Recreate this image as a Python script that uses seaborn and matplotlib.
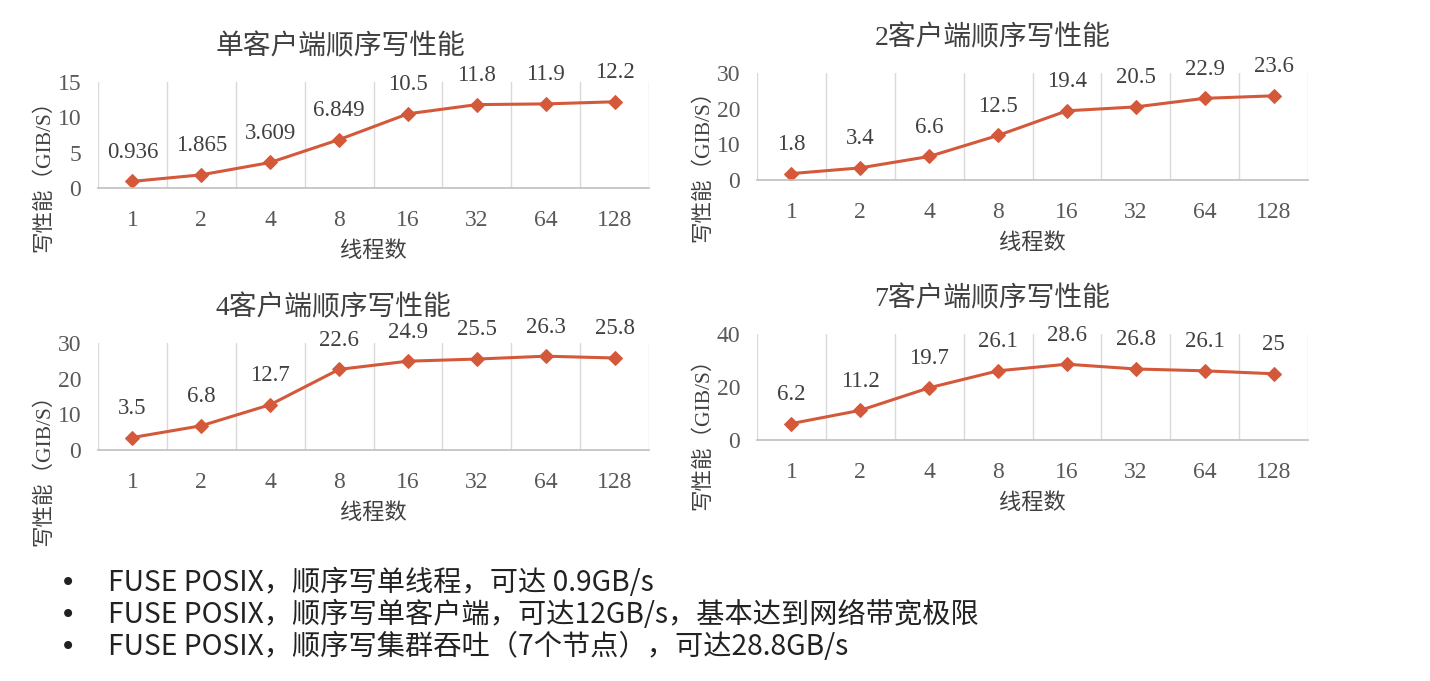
import matplotlib
matplotlib.use("Agg")
import matplotlib.pyplot as plt
import seaborn as sns
import pandas as pd
import numpy as np

threads = ["1", "2", "4", "8", "16", "32", "64", "128"]
single_client = [0.936, 1.865, 3.609, 6.849, 10.5, 11.8, 11.9, 12.2]
single_labels = ["0.936", "1.865", "3.609", "6.849", "10.5", "11.8", "11.9", "12.2"]
two_clients = [1.8, 3.4, 6.6, 12.5, 19.4, 20.5, 22.9, 23.6]
two_labels = ["1.8", "3.4", "6.6", "12.5", "19.4", "20.5", "22.9", "23.6"]
four_clients = [3.5, 6.8, 12.7, 22.6, 24.9, 25.5, 26.3, 25.8]
four_labels = ["3.5", "6.8", "12.7", "22.6", "24.9", "25.5", "26.3", "25.8"]
seven_clients = [6.2, 11.2, 19.7, 26.1, 28.6, 26.8, 26.1, 25]
seven_labels = ["6.2", "11.2", "19.7", "26.1", "28.6", "26.8", "26.1", "25"]

titles = ["单客户端顺序写性能", "2客户端顺序写性能", "4客户端顺序写性能", "7客户端顺序写性能"]
xlabel = "线程数"
ylabel = "写性能（GIB/S）"
bullets = [
    "FUSE POSIX，顺序写单线程，可达 0.9GB/s",
    "FUSE POSIX，顺序写单客户端，可达12GB/s，基本达到网络带宽极限",
    "FUSE POSIX，顺序写集群吞吐（7个节点），可达28.8GB/s",
]

sns.set_theme(style="white")
plt.rcParams["font.family"] = ["Liberation Serif", "Noto Sans CJK SC", "DejaVu Sans"]

W, H = 1430, 681
fig = plt.figure(figsize=(W / 100, H / 100), dpi=100)

LINE = "#D4593A"
TXT = "#404040"
TICK = "#595959"

def px_axes(left, top, right, bottom):
    return fig.add_axes([left / W, 1 - bottom / H, (right - left) / W, (bottom - top) / H])

panels = [
    (px_axes(98, 82, 649, 188), single_client, single_labels, [0, 5, 10, 15], 0.44, 0.16),
    (px_axes(757, 73, 1308, 180), two_clients, two_labels, [0, 10, 20, 30], 0.427, 0.18),
    (px_axes(98, 343, 649, 450), four_clients, four_labels, [0, 10, 20, 30], 0.428, -0.14),
    (px_axes(757, 334, 1308, 440), seven_clients, seven_labels, [0, 20, 40], 0.427, 0.11),
]

for i, (ax, vals, labs, yt, tx, ly) in enumerate(panels):
    df = pd.DataFrame({"pos": np.arange(len(threads)), "val": vals})
    sns.lineplot(data=df, x="pos", y="val", ax=ax, color=LINE, marker="D",
                 markersize=7, markeredgecolor=LINE, linewidth=2.2)
    for x, y, s in zip(df["pos"], df["val"], labs):
        ax.annotate(s, (x, y), xytext=(0, 21), textcoords="offset points",
                    ha="center", va="center", fontsize=16.5, color=TXT)
    ax.set_xlim(-0.5, len(threads) - 0.5)
    ax.set_ylim(yt[0], yt[-1])
    ax.set_xticks(np.arange(len(threads)))
    ax.set_xticklabels(threads)
    ax.set_xticks(np.arange(len(threads) + 1) - 0.5, minor=True)
    ax.set_yticks(yt)
    ax.grid(False)
    ax.grid(True, which="minor", axis="x", color="#D9D9D9", linewidth=1)
    ax.tick_params(axis="x", which="major", length=0, pad=16, labelsize=17, labelcolor=TICK)
    ax.tick_params(axis="x", which="minor", length=0)
    ax.tick_params(axis="y", length=0, pad=12, labelsize=17, labelcolor=TICK)
    for sp in ["top", "right", "left"]:
        ax.spines[sp].set_visible(False)
    ax.spines["bottom"].set_color("#BFBFBF")
    ax.spines["bottom"].set_linewidth(1.2)
    ax.set_xlabel(xlabel, fontsize=16, color=TXT, labelpad=7)
    ax.set_ylabel(ylabel, fontsize=15.5, color=TXT)
    ax.yaxis.set_label_coords(-0.08, ly)
    ax.set_title(titles[i], fontsize=20, color=TXT, x=tx, pad=20)

for k, b in enumerate(bullets):
    y = 583 + 32 * k
    fig.text(68 / W, 1 - y / H, "•", fontsize=20, ha="center", va="center",
             color="#222222", family=["DejaVu Sans"])
    fig.text(108 / W, 1 - y / H, b, fontsize=20.3, ha="left", va="center",
             color="#222222", family=["Noto Sans CJK SC", "DejaVu Sans"])

fig.savefig("out.png", dpi=100, facecolor="white")
